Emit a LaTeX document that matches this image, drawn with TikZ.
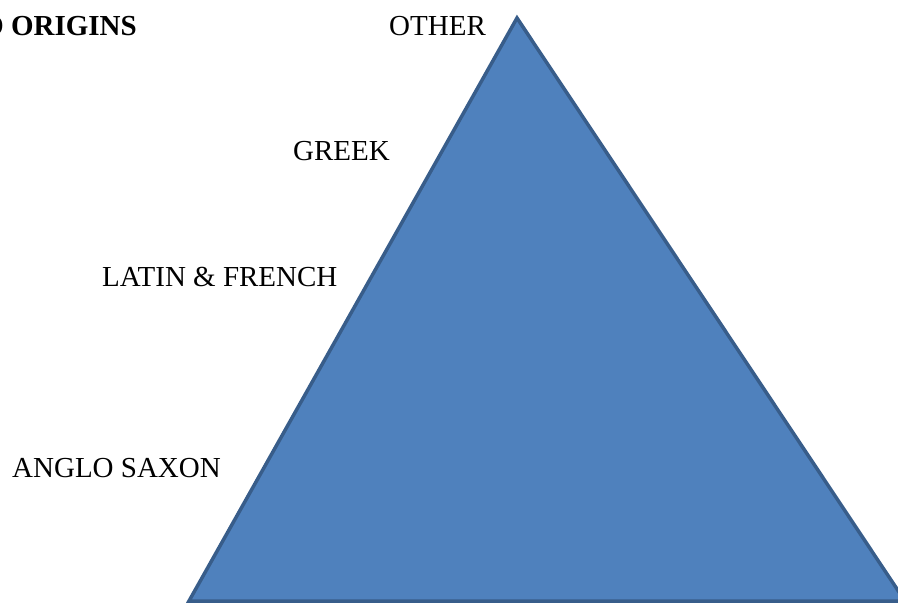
\documentclass[tikz,border=0pt]{standalone}
\usepackage{fontspec}
\setmainfont{Liberation Serif}
\usepackage{xcolor}
\definecolor{pyramidfill}{HTML}{4F81BD}
\definecolor{pyramidline}{HTML}{385D8A}
\tikzset{
	label text/.style={anchor=base west, inner sep=0pt, font=\fontsize{29}{34}\selectfont},
	title text/.style={anchor=base east, inner sep=0pt, font=\fontsize{29}{34}\selectfont\bfseries}
}
\begin{document}
\begin{tikzpicture}[x=1pt,y=-1pt]
				\useasboundingbox (0,0) rectangle (898,604);
				\coordinate (top) at (517,18);
				\coordinate (left) at (189,601);
				\coordinate (right) at (905,601);
				\filldraw [fill=pyramidfill, draw=pyramidline, line width=3.5pt, line join=miter] (top)--(left)--(right)--cycle;
				\node [title text] (title) at (137,36){D ORIGINS};
				\node [label text] (other) at (389,36){OTHER};
				\node [label text] (greek) at (293,161){GREEK};
				\node [label text] (latin) at (102,287){LATIN \& FRENCH};
				\node [label text] (anglo) at (12,477){ANGLO SAXON};
			\end{tikzpicture}
\end{document}
